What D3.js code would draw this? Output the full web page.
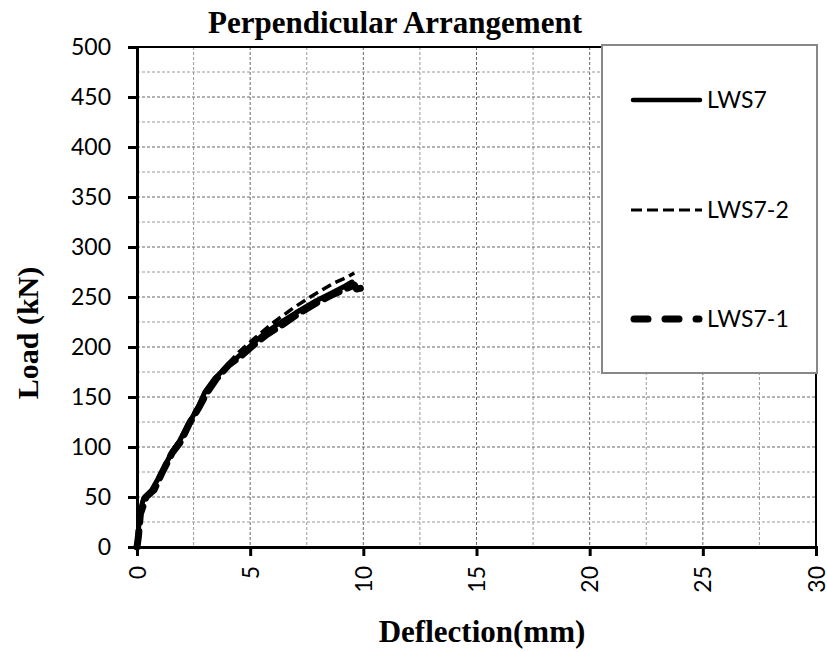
<!DOCTYPE html>
<html>
<head>
<meta charset="utf-8">
<script src="https://cdn.jsdelivr.net/npm/d3@7"></script>
<style>
  body { margin: 0; background: #fff; }
  svg { display: block; }
</style>
</head>
<body>
<div id="chart"></div>
<script>
// series: deflection (mm) and load (kN)
var lws7X = [0, 0.05, 0.12, 0.3, 0.65, 1.05, 1.5, 1.9, 2.3, 2.7, 3.0, 3.45, 4.0, 4.6, 5.1, 5.6, 6.3, 7.0, 7.9, 8.6, 9.2, 9.5];
var lws7Y = [0, 12, 35, 49, 57, 73, 93, 107, 124, 140, 155, 169, 181, 193, 203, 213, 224, 234, 246, 254, 261, 265];

var lws72X = [0, 0.05, 0.1, 0.3, 0.7, 1.1, 1.5, 1.9, 2.3, 2.7, 3.0, 3.5, 4.0, 4.5, 5.1, 6.0, 6.9, 7.8, 8.7, 9.3, 9.6];
var lws72Y = [0, 15, 36, 50, 58, 75, 95, 108, 125, 141, 155, 170, 183, 195, 207, 224, 239, 252, 264, 270, 274];

var lws71X = [0, 0.06, 0.15, 0.4, 0.75, 1.1, 1.55, 1.95, 2.3, 2.75, 3.05, 3.5, 4.05, 4.7, 5.1, 5.7, 6.4, 7.1, 8.0, 8.7, 9.3, 9.6, 9.7, 10.2];
var lws71Y = [0, 10, 33, 50, 57, 74, 94, 106, 123, 140, 153, 168, 182, 193, 201, 212, 222, 233, 245, 253, 259, 262, 258, 260];

var xTicks = [0, 5, 10, 15, 20, 25, 30];
var yTicks = [0, 50, 100, 150, 200, 250, 300, 350, 400, 450, 500];
var seriesNames = ["LWS7", "LWS7-2", "LWS7-1"];

var W = 827, H = 652;
var pLeft = 137, pRight = 816, pTop = 47, pBottom = 547;
var tickFont = "Lato, 'Open Sans', sans-serif";
var titleFont = "'Liberation Serif', 'Times New Roman', serif";

var svg = d3.select("#chart").append("svg")
    .attr("width", W)
    .attr("height", H);

var x = d3.scaleLinear().domain([0, 30]).range([pLeft, pRight]);
var y = d3.scaleLinear().domain([0, 500]).range([pBottom, pTop]);

// gridlines
var xGrid = d3.range(0, 30.01, 2.5);
var yGrid = d3.range(0, 500.01, 25);

svg.append("g").selectAll("line")
    .data(xGrid.filter(function(d) { return d > 0 && d < 30; }))
    .enter().append("line")
    .attr("x1", function(d) { return x(d); })
    .attr("x2", function(d) { return x(d); })
    .attr("y1", pTop).attr("y2", pBottom)
    .attr("stroke", function(d) { return d % 5 === 0 ? "#666" : "#999"; })
    .attr("stroke-width", 1)
    .attr("stroke-dasharray", "3,2");

svg.append("g").selectAll("line")
    .data(yGrid.filter(function(d) { return d > 0 && d < 500; }))
    .enter().append("line")
    .attr("x1", pLeft).attr("x2", pRight)
    .attr("y1", function(d) { return y(d); })
    .attr("y2", function(d) { return y(d); })
    .attr("stroke", function(d) { return d % 50 === 0 ? "#666" : "#999"; })
    .attr("stroke-width", 1)
    .attr("stroke-dasharray", "3,2");

// plot border
svg.append("rect")
    .attr("x", pLeft).attr("y", pTop)
    .attr("width", pRight - pLeft).attr("height", pBottom - pTop)
    .attr("fill", "none")
    .attr("stroke", "#000")
    .attr("stroke-width", 2);

// axes
var yAxis = svg.append("g")
    .attr("transform", "translate(" + pLeft + ",0)")
    .call(d3.axisLeft(y).tickValues(yTicks).tickSize(9).tickPadding(17));
yAxis.select(".domain").attr("stroke-width", 3);
yAxis.selectAll(".tick line").attr("stroke-width", 3);
yAxis.selectAll("text")
    .attr("font-family", tickFont)
    .attr("font-size", "23px")
    .attr("fill", "#000");

var xAxis = svg.append("g")
    .attr("transform", "translate(0," + pBottom + ")")
    .call(d3.axisBottom(x).tickValues(xTicks).tickSize(9));
xAxis.select(".domain").attr("stroke-width", 3);
xAxis.selectAll(".tick line").attr("stroke-width", 3);
xAxis.selectAll("text")
    .attr("font-family", tickFont)
    .attr("font-size", "23px")
    .attr("fill", "#000")
    .attr("text-anchor", "end")
    .attr("transform", "rotate(-90)")
    .attr("x", -19)
    .attr("y", 0)
    .attr("dy", "0.35em");

// lines
function pairs(xs, ys) {
  return xs.map(function(v, i) { return [v, ys[i]]; });
}

var line = d3.line()
    .x(function(p) { return x(p[0]); })
    .y(function(p) { return y(p[1]); });

var styles = {
  "LWS7": { w: 5, dash: null, cap: "round" },
  "LWS7-2": { w: 3.5, dash: "10,5", cap: "butt" },
  "LWS7-1": { w: 7, dash: "16,9", cap: "round" }
};

var seriesData = [
  { name: "LWS7-1", pts: pairs(lws71X, lws71Y) },
  { name: "LWS7-2", pts: pairs(lws72X, lws72Y) },
  { name: "LWS7", pts: pairs(lws7X, lws7Y) }
];

svg.append("g").selectAll("path")
    .data(seriesData)
    .enter().append("path")
    .attr("d", function(d) { return line(d.pts); })
    .attr("fill", "none")
    .attr("stroke", "#000")
    .attr("stroke-width", function(d) { return styles[d.name].w; })
    .attr("stroke-dasharray", function(d) { return styles[d.name].dash; })
    .attr("stroke-linecap", function(d) { return styles[d.name].cap; })
    .attr("stroke-linejoin", "round");

// legend
var legend = svg.append("g");
legend.append("rect")
    .attr("x", 602).attr("y", 45)
    .attr("width", 215).attr("height", 328)
    .attr("fill", "#fff")
    .attr("stroke", "#888")
    .attr("stroke-width", 2);

var legendY = [100, 210, 319];
var legendLine = {
  "LWS7": { x1: 633, x2: 700, w: 4.5, dash: null, cap: "round" },
  "LWS7-2": { x1: 631, x2: 702, w: 3, dash: "11,5", cap: "butt" },
  "LWS7-1": { x1: 634, x2: 699, w: 7, dash: "14,17", cap: "round" }
};
seriesNames.forEach(function(name, i) {
  var st = legendLine[name];
  legend.append("line")
      .attr("x1", st.x1).attr("x2", st.x2)
      .attr("y1", legendY[i]).attr("y2", legendY[i])
      .attr("stroke", "#000")
      .attr("stroke-width", st.w)
      .attr("stroke-dasharray", st.dash)
      .attr("stroke-linecap", st.cap);
  legend.append("text")
      .attr("x", 707).attr("y", legendY[i])
      .attr("dy", "0.35em")
      .attr("font-family", tickFont)
      .attr("font-size", "23px")
      .text(name);
});

// titles
svg.append("text")
    .attr("x", 395).attr("y", 33)
    .attr("text-anchor", "middle")
    .attr("font-family", titleFont)
    .attr("font-weight", "bold")
    .attr("font-size", "31px")
    .text("Perpendicular Arrangement");

svg.append("text")
    .attr("x", 482).attr("y", 642)
    .attr("text-anchor", "middle")
    .attr("font-family", titleFont)
    .attr("font-weight", "bold")
    .attr("font-size", "31px")
    .text("Deflection(mm)");

svg.append("text")
    .attr("transform", "translate(38,333) rotate(-90)")
    .attr("text-anchor", "middle")
    .attr("font-family", titleFont)
    .attr("font-weight", "bold")
    .attr("font-size", "30px")
    .text("Load (kN)");
</script>
</body>
</html>
